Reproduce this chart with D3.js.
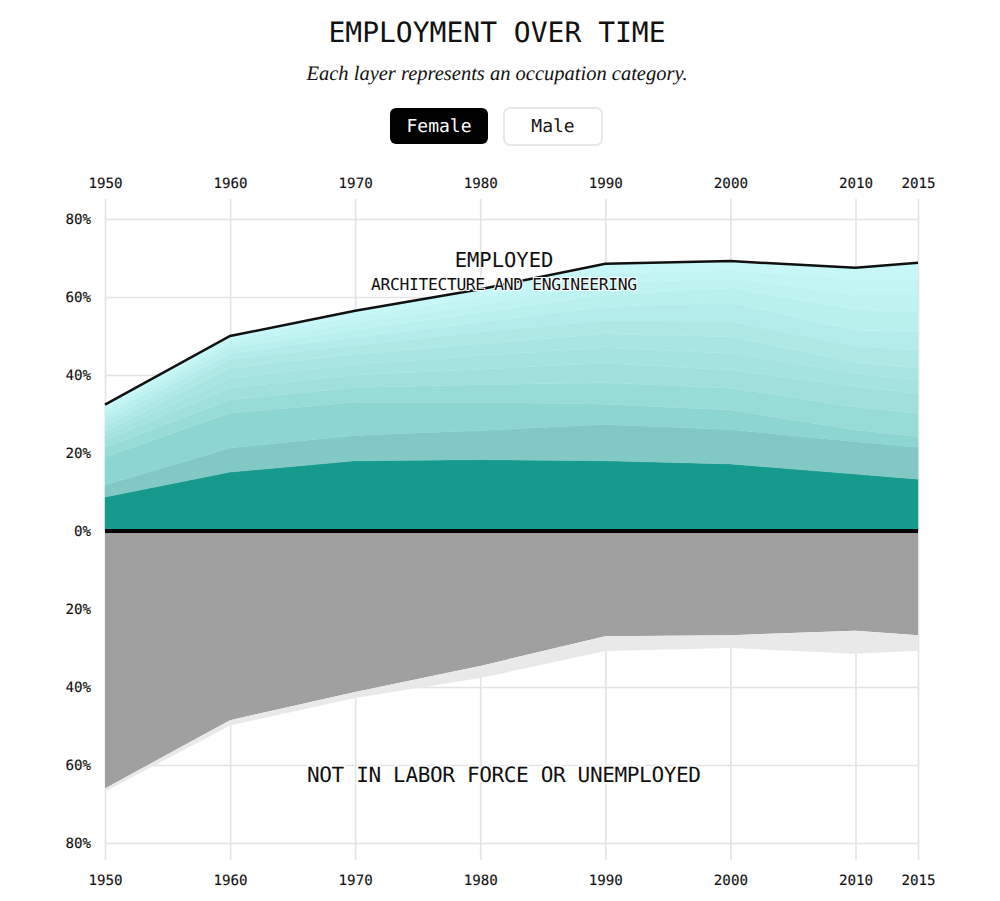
<!DOCTYPE html>
<html>
<head>
<meta charset="utf-8">
<script src="https://cdn.jsdelivr.net/npm/d3@7"></script>
<style>
  html, body { margin: 0; padding: 0; background: #fff; }
  svg { display: block; text-rendering: geometricPrecision; }
  .tick text { font-family: "DejaVu Sans Mono", monospace; font-size: 14.2px; fill: #111; stroke: #111; stroke-width: 0.12px; }
  .tick line { stroke: #e4e4e4; stroke-width: 1.7px; }
  .mono { font-family: "DejaVu Sans Mono", monospace; fill: #111; text-anchor: middle; }
  .btn { font-family: "DejaVu Sans Mono", monospace; font-size: 18px; text-anchor: middle; }
</style>
</head>
<body>
<div id="chart"></div>
<script>
const years = [1950, 1960, 1970, 1980, 1990, 2000, 2010, 2015];
const pctTicks = [-80, -60, -40, -20, 0, 20, 40, 60, 80];

// employed women, share per occupation layer, bottom layer first
const layer01 = [8.7, 15.1, 18, 18.3, 18, 17.2, 14.6, 13.3];
const layer02 = [3.1, 6.2, 6.5, 7.5, 9.3, 8.8, 8.3, 8.2];
const layer03 = [7.2, 8.9, 8.5, 7.2, 5.2, 5, 3, 2.7];
const layer04 = [2.5, 3.4, 3.8, 4.5, 5.5, 5.6, 5.9, 6];
const layer05 = [1.8, 3.1, 3.2, 4, 5, 4.7, 5.2, 5.1];
const layer06 = [1.3, 2.5, 2.7, 3.5, 4, 4.3, 3.4, 3.4];
const layer07 = [1, 2.6, 2.6, 3, 3.5, 4.2, 2.8, 3];
const layer08 = [1.2, 2.2, 2.3, 3, 3.5, 3.9, 4.1, 4.7];
const layer09 = [1.5, 1.6, 2.1, 2.5, 3.5, 4.8, 4.2, 4.7];
const layer10 = [1.3, 1.4, 1.9, 2.5, 3, 3.8, 5.2, 5.1];
const layer11 = [1.1, 1.2, 1.8, 2, 3, 2.5, 3.8, 4.3];
const layer12 = [0.9, 1, 1.6, 2, 2.5, 2.2, 3.9, 3.9];
const layer13 = [0.8, 0.8, 1.5, 2, 2.5, 2.2, 3.1, 4.4];
const layers = [layer01, layer02, layer03, layer04, layer05, layer06, layer07,
  layer08, layer09, layer10, layer11, layer12, layer13];

const notInLabor = [66, 48.5, 41.3, 34.6, 27, 26.7, 25.6, 26.7];
const unemployed = [0.8, 1.4, 1.5, 3.1, 3.8, 3.3, 5.9, 4];

const tealColors = ["#169a8e", "#82c9c5", "#8dd5d0", "#98dcd8", "#9fe0dc", "#a4e3df", "#a9e6e3",
  "#aee9e6", "#b3ecea", "#b9f0ee", "#bef3f1", "#c3f5f4", "#c8f7f7"];

const width = 1000, height = 901;

const x = d3.scaleLinear().domain([1950, 2015]).range([105, 918]);
const y = d3.scaleLinear().domain([-80, 80]).range([843, 219]);

const svg = d3.select("#chart").append("svg")
  .attr("width", width)
  .attr("height", height);

// title block
svg.append("text").attr("class", "mono")
  .attr("x", 497).attr("y", 42)
  .style("font-size", "28px")
  .text("EMPLOYMENT OVER TIME");

svg.append("text")
  .attr("x", 497).attr("y", 80)
  .attr("text-anchor", "middle")
  .style("font-family", '"Liberation Serif", serif')
  .style("font-style", "italic")
  .style("font-size", "20.5px")
  .style("fill", "#111")
  .text("Each layer represents an occupation category.");

// toggle
svg.append("rect")
  .attr("x", 390).attr("y", 108).attr("width", 98).attr("height", 36).attr("rx", 6)
  .attr("fill", "#000");
svg.append("text").attr("class", "btn")
  .attr("x", 439).attr("y", 132)
  .attr("fill", "#fff")
  .text("Female");
svg.append("rect")
  .attr("x", 504).attr("y", 108).attr("width", 98).attr("height", 37).attr("rx", 6)
  .attr("fill", "#fff").attr("stroke", "#e8e8e8").attr("stroke-width", 2);
svg.append("text").attr("class", "btn")
  .attr("x", 553).attr("y", 132)
  .attr("fill", "#111")
  .text("Male");

// axes and grid
const fmtYear = d3.format("d");
const fmtPct = d => Math.abs(d) + "%";

svg.append("g")
  .attr("transform", "translate(0,199)")
  .call(d3.axisTop(x).tickValues(years).tickFormat(fmtYear).tickSize(-661).tickPadding(11))
  .call(g => g.select(".domain").remove());

svg.append("g")
  .attr("transform", "translate(0,860)")
  .call(d3.axisBottom(x).tickValues(years).tickFormat(fmtYear).tickSize(0).tickPadding(15))
  .call(g => g.select(".domain").remove());

svg.append("g")
  .attr("transform", "translate(105,0)")
  .call(d3.axisLeft(y).tickValues(pctTicks).tickFormat(fmtPct).tickSize(-813).tickPadding(14))
  .call(g => g.select(".domain").remove());

// employed layers
const rows = years.map((yr, i) => {
  const row = { year: yr };
  layers.forEach((l, j) => { row[j] = l[i]; });
  return row;
});
const stacked = d3.stack().keys(layers.map((l, j) => j))(rows);

const area = d3.area()
  .x(d => x(d.data.year))
  .y0(d => y(d[0]))
  .y1(d => y(d[1]));

svg.append("g").selectAll("path")
  .data(stacked)
  .join("path")
  .attr("d", area)
  .attr("fill", (d, i) => tealColors[i])
  .attr("stroke", (d, i) => tealColors[i])
  .attr("stroke-width", 0.4);

// highlighted top edge
const topLine = d3.line()
  .x(d => x(d.data.year))
  .y(d => y(d[1]));

svg.append("path")
  .attr("d", topLine(stacked[stacked.length - 1]))
  .attr("fill", "none")
  .attr("stroke", "#111")
  .attr("stroke-width", 2.5);

// not employed, mirrored below zero
const belowRows = years.map((yr, i) => ({ year: yr, a: notInLabor[i], b: unemployed[i] }));
const below = d3.stack().keys(["a", "b"])(belowRows);
const belowArea = d3.area()
  .x(d => x(d.data.year))
  .y0(d => y(-d[0]))
  .y1(d => y(-d[1]));

svg.append("g").selectAll("path")
  .data(below)
  .join("path")
  .attr("d", belowArea)
  .attr("fill", (d, i) => ["#a0a0a0", "#e9e9e9"][i]);

// zero line
svg.append("line")
  .attr("x1", x(1950)).attr("x2", x(2015))
  .attr("y1", y(0)).attr("y2", y(0))
  .attr("stroke", "#000")
  .attr("stroke-width", 4);

// labels
svg.append("text").attr("class", "mono")
  .attr("x", 504).attr("y", 267)
  .style("font-size", "20.5px")
  .text("EMPLOYED");

svg.append("text").attr("class", "mono")
  .attr("x", 504).attr("y", 290)
  .attr("textLength", 266)
  .style("font-size", "16.4px")
  .style("paint-order", "stroke")
  .style("stroke", "#fff")
  .style("stroke-width", "2px")
  .text("ARCHITECTURE AND ENGINEERING");

svg.append("text").attr("class", "mono")
  .attr("x", 504).attr("y", 782)
  .attr("textLength", 394)
  .style("font-size", "21.1px")
  .style("paint-order", "stroke")
  .style("stroke", "#fff")
  .style("stroke-width", "3px")
  .text("NOT IN LABOR FORCE OR UNEMPLOYED");
</script>
</body>
</html>
